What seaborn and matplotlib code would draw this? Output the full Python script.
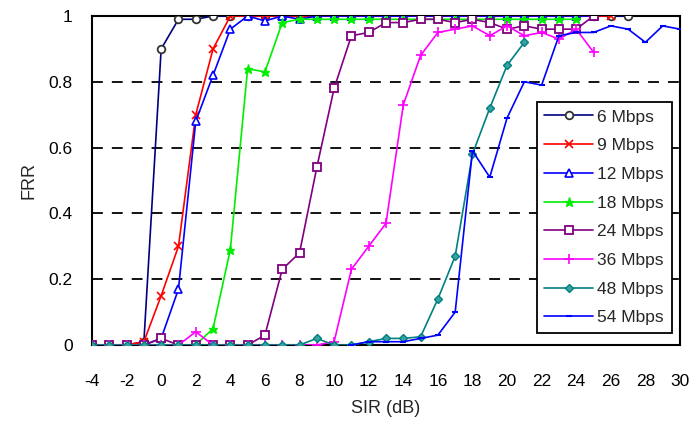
import numpy as np
import pandas as pd
import matplotlib
matplotlib.use("Agg")
import matplotlib.pyplot as plt
import seaborn as sns

# ---------------- data ----------------
labels = ["6 Mbps", "9 Mbps", "12 Mbps", "18 Mbps", "24 Mbps", "36 Mbps", "48 Mbps", "54 Mbps"]

x_6 = list(range(-4, 28))
y_6 = [0, 0, 0, 0.01, 0.90, 0.99, 0.99, 1.0] + [1.0] * 24

x_9 = list(range(-4, 27))
y_9 = [0, 0, 0, 0.01, 0.15, 0.30, 0.70, 0.90] + [1.0] * 23

x_12 = list(range(-4, 26))
y_12 = [0, 0, 0, 0, 0.02, 0.17, 0.68, 0.82, 0.96, 1.0, 0.985, 1.0, 0.99, 1.0,
        1.0, 1.0, 1.0, 1.0, 1.0, 1.0, 1.0, 1.0, 1.0, 1.0, 1.0, 1.0, 1.0, 1.0, 1.0, 1.0]

x_18 = list(range(-4, 25))
y_18 = [0, 0, 0, 0, 0, 0, 0, 0.05, 0.29, 0.84, 0.83, 0.98, 0.99, 0.99,
        0.99, 0.99, 0.99, 0.99, 0.99, 0.99, 0.99, 0.99, 0.99, 0.99, 0.99, 0.99, 0.99, 0.99, 0.99]

x_24 = list(range(-4, 26))
y_24 = [0, 0, 0, 0, 0.02, 0, 0, 0, 0, 0, 0.03, 0.23, 0.28, 0.54, 0.78, 0.94, 0.95,
        0.98, 0.98, 0.99, 0.99, 0.98, 0.99, 0.98, 0.96, 0.97, 0.96, 0.96, 0.96, 1.0]

x_36 = list(range(-4, 26))
y_36 = [0, 0, 0, 0, 0, 0, 0.04, 0, 0, 0, 0, 0, 0, 0, 0.01, 0.23, 0.30, 0.37, 0.73,
        0.88, 0.95, 0.96, 0.97, 0.94, 0.97, 0.94, 0.95, 0.93, 0.96, 0.89]

x_48 = list(range(-4, 22))
y_48 = [0, 0, 0, 0, 0, 0, 0, 0, 0, 0, 0, 0, 0, 0.02, 0, 0, 0.01, 0.02, 0.02, 0.025,
        0.14, 0.27, 0.58, 0.72, 0.85, 0.92]

x_54 = list(range(11, 31))
y_54 = [0, 0.01, 0.01, 0.01, 0.02, 0.03, 0.10, 0.59, 0.51, 0.69, 0.80, 0.79, 0.94,
        0.95, 0.95, 0.97, 0.96, 0.92, 0.97, 0.96]

x_ticks = list(range(-4, 31, 2))
y_ticks = [0, 0.2, 0.4, 0.6, 0.8, 1.0]
y_ticklabels = ["0", "0.2", "0.4", "0.6", "0.8", "1"]

# ---------------- style ----------------
series = [
    (x_6, y_6, dict(color="#000080", marker="o", mfc="white", mec="#333333", ms=5.5, mew=1.3)),
    (x_9, y_9, dict(color="#FF0000", marker="x", mfc="none", mec="#FF0000", ms=5.5, mew=1.2)),
    (x_12, y_12, dict(color="#0000FF", marker="^", mfc="white", mec="#0000FF", ms=5.5, mew=1.2)),
    (x_18, y_18, dict(color="#00EE00", marker="*", mfc="#00EE00", mec="#00EE00", ms=6.5, mew=1.0)),
    (x_24, y_24, dict(color="#800080", marker="s", mfc="white", mec="#800080", ms=5.5, mew=1.3)),
    (x_36, y_36, dict(color="#FF00FF", marker="+", mfc="none", mec="#FF00FF", ms=7.5, mew=1.2)),
    (x_48, y_48, dict(color="#008080", marker="D", mfc="#3aa0a0", mec="#008080", ms=3.8, mew=1.0)),
    (x_54, y_54, dict(color="#0000FF", marker="_", mfc="#0000FF", mec="#0000FF", ms=5, mew=1.5)),
]

sns.set_style("white")
plt.rcParams["font.family"] = ["Liberation Sans", "DejaVu Sans"]

fig = plt.figure(figsize=(6.95, 4.29), dpi=100)
ax = fig.add_axes([92 / 695, 1 - 345 / 429, (680 - 92) / 695, (345 - 16) / 429])

for (xs, ys, st), lab in zip(series, labels):
    df = pd.DataFrame({"SIR": xs, "FRR": ys})
    sns.lineplot(data=df, x="SIR", y="FRR", ax=ax, color=st["color"], linewidth=1.2,
                 marker=st["marker"], markersize=st["ms"], markerfacecolor=st["mfc"],
                 markeredgecolor=st["mec"], markeredgewidth=st["mew"], label=lab,
                 zorder=3)

ax.set_xlim(-4, 30)
ax.set_ylim(0, 1)
ax.set_xticks(x_ticks)
ax.set_xticklabels([str(t) for t in x_ticks])
ax.set_yticks(y_ticks)
ax.set_yticklabels(y_ticklabels)

for yv in [0.2, 0.4, 0.6, 0.8]:
    ax.axhline(yv, color="black", linestyle=(0, (6, 5)), linewidth=1.3, zorder=1)

for s in ax.spines.values():
    s.set_visible(True)
    s.set_color("black")
    s.set_linewidth(1.5)

ax.tick_params(axis="x", direction="in", length=7, width=1.2, pad=21, labelsize=12.5, colors="black")
ax.tick_params(axis="y", length=0, pad=14, labelsize=12.5, colors="black")
ax.set_xlabel("SIR (dB)", fontsize=13, labelpad=8)
ax.set_ylabel("FRR", fontsize=13, labelpad=8)

leg = ax.legend(loc="lower right", bbox_to_anchor=(0.995, 0.02), frameon=True, fancybox=False,
                edgecolor="black", fontsize=12.5, handlelength=2.8, labelspacing=0.78,
                borderpad=0.45, handletextpad=0.25, borderaxespad=0.3)
leg.get_frame().set_linewidth(1.3)
leg.get_frame().set_alpha(1)

fig.savefig("out.png", dpi=100)
